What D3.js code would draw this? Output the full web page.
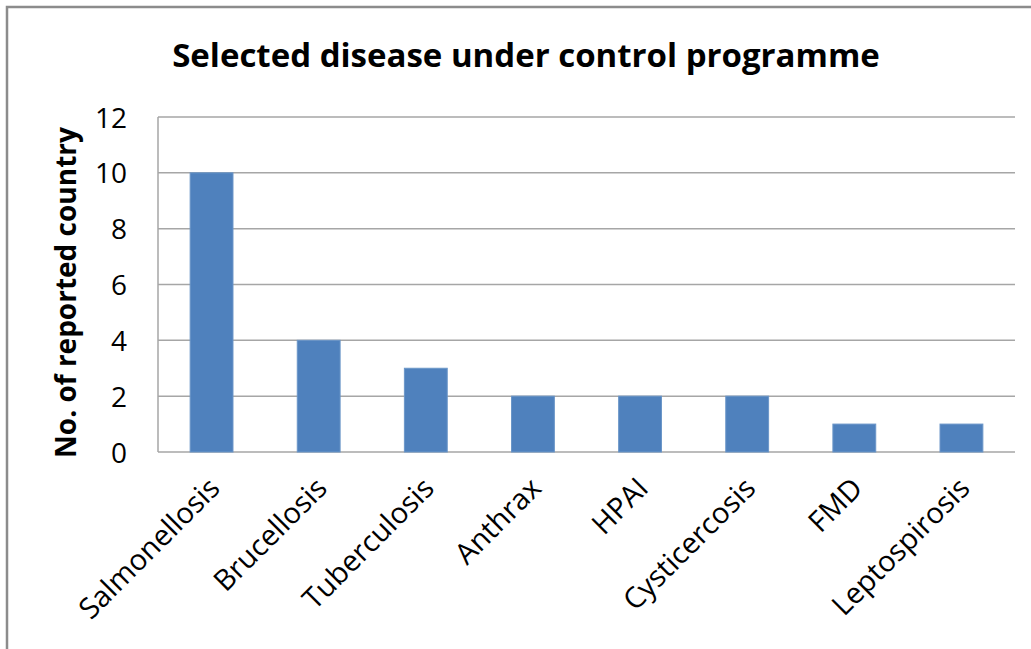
<!DOCTYPE html>
<html>
<head>
<meta charset="utf-8">
<script src="https://cdn.jsdelivr.net/npm/d3@7"></script>
<style>
  body { margin: 0; background: #fff; }
  text { font-family: "Open Sans", sans-serif; fill: #000; }
</style>
</head>
<body>
<div id="chart"></div>
<script>
// data
const diseases = ["Salmonellosis", "Brucellosis", "Tuberculosis", "Anthrax", "HPAI", "Cysticercosis", "FMD", "Leptospirosis"];
const countries = [10, 4, 3, 2, 2, 2, 1, 1];
const yTicks = [0, 2, 4, 6, 8, 10, 12];

const width = 1031, height = 649;
const margin = { top: 117, right: 16, bottom: 197, left: 158 };

const svg = d3.select("#chart").append("svg")
  .attr("width", width)
  .attr("height", height);

// outer chart frame
svg.append("rect")
  .attr("x", 7).attr("y", 7)
  .attr("width", width + 10).attr("height", height + 10)
  .attr("fill", "none")
  .attr("stroke", "#8c8c8c")
  .attr("stroke-width", 2.5);

const xScale = d3.scaleBand()
  .domain(diseases)
  .range([margin.left, width - margin.right])
  .paddingInner(0.6)
  .paddingOuter(0.3);

const yScale = d3.scaleLinear()
  .domain([0, 12])
  .range([height - margin.bottom, margin.top]);

// gridlines
svg.append("g")
  .selectAll("line")
  .data(yTicks)
  .join("line")
  .attr("x1", margin.left)
  .attr("x2", width - margin.right)
  .attr("y1", d => yScale(d))
  .attr("y2", d => yScale(d))
  .attr("stroke", "#a6a6a6")
  .attr("stroke-width", 1.5);

// y axis line
svg.append("line")
  .attr("x1", margin.left).attr("x2", margin.left)
  .attr("y1", yScale(0)).attr("y2", yScale(12))
  .attr("stroke", "#a6a6a6")
  .attr("stroke-width", 1.5);

// bars
svg.append("g")
  .selectAll("rect")
  .data(countries)
  .join("rect")
  .attr("x", (d, i) => xScale(diseases[i]))
  .attr("y", d => yScale(d))
  .attr("width", xScale.bandwidth())
  .attr("height", d => yScale(0) - yScale(d))
  .attr("fill", "#4f81bd")
  .attr("stroke", "#6b96c8")
  .attr("stroke-width", 1);

// y tick labels
const yAxis = d3.axisLeft(yScale).tickValues(yTicks).tickSize(0).tickPadding(30);
const gy = svg.append("g")
  .attr("transform", `translate(${margin.left},0)`)
  .call(yAxis);
gy.select(".domain").remove();
gy.selectAll("text")
  .style("font-size", "28px")
  .style("font-family", "'Open Sans', sans-serif")
  .attr("fill", "#000")
  .attr("x", -31)
  .attr("dy", "0.36em");

// x labels, rotated
const xAxis = d3.axisBottom(xScale).tickSize(0).tickPadding(0);
const gx = svg.append("g")
  .attr("transform", `translate(0,${yScale(0)})`)
  .call(xAxis);
gx.select(".domain").remove();
gx.selectAll("text")
  .style("font-size", "29px")
  .style("font-family", "'Open Sans', sans-serif")
  .attr("fill", "#000")
  .attr("text-anchor", "end")
  .attr("y", 0)
  .attr("dy", 0)
  .attr("transform", "translate(10,38) rotate(-45)");

// title
svg.append("text")
  .attr("x", 526)
  .attr("y", 67)
  .attr("text-anchor", "middle")
  .style("font-size", "33px")
  .style("font-weight", "bold")
  .text("Selected disease under control programme");

// y axis title
svg.append("text")
  .attr("transform", `translate(76,${(127 + 458) / 2}) rotate(-90)`)
  .attr("text-anchor", "middle")
  .style("font-size", "28px")
  .style("font-weight", "bold")
  .text("No. of reported country");
</script>
</body>
</html>
